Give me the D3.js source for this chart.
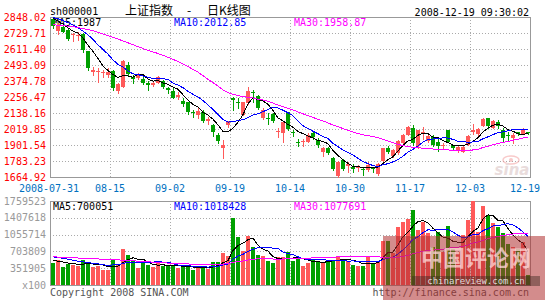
<!DOCTYPE html>
<html><head><meta charset="utf-8">
<script src="https://cdn.jsdelivr.net/npm/d3@7/dist/d3.min.js"></script>
<style>
html,body{margin:0;padding:0;background:#fff;}
svg{display:block;}
</style></head><body>
<svg id="chart" width="545" height="300"></svg>
<script>
// ---------------- data ----------------
const dates = ["07-31","08-01","08-04","08-05","08-06","08-07","08-08","08-11","08-12","08-13",
"08-14","08-15","08-18","08-19","08-20","08-21","08-22","08-25","08-26","08-27",
"08-28","08-29","09-01","09-02","09-03","09-04","09-05","09-08","09-09","09-10",
"09-11","09-12","09-16","09-17","09-18","09-19","09-22","09-23","09-24","09-25",
"09-26","10-06","10-07","10-08","10-09","10-10","10-13","10-14","10-15","10-16",
"10-17","10-20","10-21","10-22","10-23","10-24","10-27","10-28","10-29","10-30",
"10-31","11-03","11-04","11-05","11-06","11-07","11-10","11-11","11-12","11-13",
"11-14","11-17","11-18","11-19","11-20","11-21","11-24","11-25","11-26","11-27",
"11-28","12-01","12-02","12-03","12-04","12-05","12-08","12-09","12-10","12-11",
"12-12","12-15","12-16","12-17","12-18","12-19"];
const xTickLabels = ["2008-07-31","08-15","09-02","09-19","10-14","10-30","11-17","12-03","12-19"];
const priceTicks = ["2848.02","2729.71","2611.40","2493.09","2374.78","2256.47","2138.16","2019.85","1901.54","1783.23","1664.92"];
const volTicks = ["1759523","1407618","1055714","703809","351905"];
const volUnit = "x100";

const open = [2835,2745,2775,2752,2710,2705,2722,2597,2439,2444,
2429,2414,2451,2296,2333,2493,2407,2394,2390,2357,
2340,2362,2377,2320,2301,2259,2227,2217,2148,2123,
2148,2079,2049,1975,1882,2049,2246,2217,2123,2210,
2296,2264,2104,2099,2128,1995,1988,2143,2000,1924,
1921,1926,1988,1938,1847,1882,1808,1675,1791,1741,
1741,1729,1724,1717,1734,1685,1783,1882,1823,1840,
1919,1980,2025,1897,1980,1931,1963,1926,1897,2012,
1901,1865,1852,1901,2000,1980,2044,2099,2030,2074,
2012,1975,1956,1995,1985,1995];
const high = [2848.02,2800,2785,2760,2727,2735,2727,2600,2481,2468,
2456,2473,2456,2357,2528,2513,2419,2436,2407,2375,
2365,2412,2382,2333,2320,2291,2247,2222,2160,2178,
2160,2111,2054,1988,1939,2079,2259,2247,2222,2333,
2308,2271,2178,2136,2136,2025,2074,2148,2012,1946,
1946,1988,2000,1956,1889,1889,1815,1785,1798,1778,
1759,1754,1741,1778,1741,1766,1880,1894,1870,1935,
1980,2045,2049,2015,2032,1988,1975,1946,1914,2015,
1904,1901,1892,1975,2054,2025,2099,2104,2084,2087,
2025,2000,1988,2000,2030,2000];
const low = [2770,2725,2735,2680,2670,2678,2592,2456,2419,2370,
2407,2407,2308,2284,2330,2419,2357,2390,2352,2308,
2335,2357,2320,2284,2247,2242,2192,2128,2111,2099,
2069,2054,1971,1914,1803,2037,2160,2178,2123,2202,
2217,2168,2094,2054,2069,1963,1926,2015,1971,1897,
1894,1921,1946,1889,1823,1833,1720,1664.93,1717,1704,
1699,1709,1680,1709,1704,1680,1780,1840,1815,1835,
1914,1975,1901,1882,1946,1921,1897,1857,1872,1921,
1865,1852,1850,1898,1980,1975,2040,2030,2025,2025,
1931,1931,1914,1975,1980,1985];
const close = [2782,2790,2740,2685,2720,2715,2604,2473,2456,2451,
2439,2439,2325,2350,2523,2424,2394,2419,2357,2345,
2357,2407,2333,2308,2252,2271,2202,2143,2138,2155,
2079,2094,1995,1931,1902,2074,2232,2207,2217,2301,
2286,2173,2160,2089,2079,2005,2069,2020,1993,1916,
1931,1976,1956,1901,1877,1847,1724,1778,1724,1759,
1729,1736,1714,1754,1724,1759,1877,1852,1865,1931,
1975,2037,1914,2012,1995,1971,1901,1897,1904,1921,
1877,1889,1889,1971,2012,2020,2094,2037,2079,2044,
1951,1968,1975,1980,2020,1992];

const ma5 = [2838,2818,2795,2768,2743,2730,2693,2639,2594,2540,
2485,2452,2422,2401,2415,2412,2403,2422,2423,2388,
2374,2377,2360,2350,2331,2314,2273,2235,2201,2182,
2143,2122,2092,2051,2000,1999,2027,2069,2126,2206,
2249,2237,2227,2202,2157,2101,2080,2052,2033,2001,
1986,1967,1954,1936,1928,1911,1861,1825,1790,1766,
1743,1745,1732,1738,1731,1737,1766,1793,1815,1857,
1900,1932,1944,1974,1987,1986,1959,1955,1934,1919,
1900,1898,1896,1909,1928,1956,1997,2027,2048,2055,
2041,2016,2003,1984,1979,1987];
const ma10 = [2845,2835,2822,2806,2788,2768,2744,2716,2682,2642,
2608,2573,2531,2498,2478,2449,2428,2422,2412,2402,
2393,2390,2391,2387,2360,2344,2325,2298,2276,2257,
2229,2198,2164,2126,2091,2071,2075,2081,2089,2103,
2124,2132,2148,2164,2182,2175,2159,2140,2118,2079,
2044,2024,2003,1985,1965,1949,1914,1890,1863,1847,
1827,1803,1779,1764,1749,1740,1756,1763,1777,1794,
1819,1849,1869,1895,1922,1943,1946,1950,1954,1953,
1943,1929,1926,1922,1924,1928,1948,1962,1979,1992,
1999,2007,2015,2016,2017,2013];
const ma30 = [2790,2788,2785,2781,2776,2770,2763,2755,2746,2735,
2723,2711,2698,2685,2671,2657,2643,2629,2615,2602,
2590,2578,2565,2550,2535,2518,2500,2482,2460,2440,
2414,2387,2362,2337,2309,2288,2276,2267,2259,2254,
2249,2240,2234,2226,2211,2197,2186,2173,2161,2146,
2132,2118,2105,2092,2079,2065,2049,2037,2023,2010,
1998,1986,1977,1971,1965,1955,1943,1931,1919,1907,
1896,1892,1884,1881,1878,1877,1872,1868,1865,1865,
1863,1860,1858,1860,1865,1870,1883,1891,1903,1913,
1920,1928,1937,1944,1954,1959];

const volume = [461000,531000,377000,447000,426000,391000,531000,482000,370000,405000,
321000,321000,531000,412000,754000,621000,531000,356000,461000,426000,
377000,461000,391000,391000,426000,356000,405000,370000,321000,391000,
356000,342000,482000,475000,670000,600000,1403000,998000,705000,1033000,
796000,621000,600000,496000,461000,580000,580000,691000,510000,566000,
391000,461000,531000,496000,475000,496000,531000,600000,531000,496000,
426000,391000,391000,600000,461000,475000,928000,928000,670000,1218000,
1316000,1386000,1575000,1150000,1326000,1082000,800000,1100000,700000,1229000,
750000,700000,1047000,1361000,1759523,1100000,1661000,1466000,1292000,1222000,
1082000,850000,800000,750000,900000,200000];
const vma5 = [520000,500000,480000,460000,448000,434000,434000,455000,440000,436000,
422000,380000,390000,398000,468000,528000,570000,535000,545000,479000,
430000,416000,423000,409000,409000,405000,394000,390000,376000,369000,
369000,356000,378000,409000,465000,514000,726000,829000,875000,948000,
987000,831000,751000,709000,595000,552000,543000,562000,564000,585000,
548000,524000,492000,489000,471000,492000,506000,520000,527000,531000,
517000,489000,447000,461000,454000,464000,571000,678000,692000,844000,
1012000,1104000,1233000,1329000,1351000,1304000,1187000,1092000,1002000,982000,
916000,896000,885000,1017000,1124000,1194000,1386000,1470000,1456000,1348000,
1345000,1182000,1049000,941000,876000,700051];
const vma10 = [590000,575000,560000,540000,520000,500000,485000,470000,455000,442000,
428000,407000,423000,419000,452000,475000,475000,462000,471000,473000,
479000,493000,479000,477000,444000,418000,405000,406000,392000,389000,
387000,375000,384000,392000,417000,441000,541000,604000,642000,706000,
750000,778000,790000,792000,771000,769000,687000,656000,637000,590000,
550000,534000,527000,527000,528000,520000,515000,506000,508000,501000,
504000,497000,483000,494000,492000,490000,530000,563000,577000,649000,
738000,837000,956000,1011000,1097000,1158000,1145000,1162000,1165000,1166000,
1110000,1041000,988000,1010000,1053000,1055000,1141000,1177000,1237000,1236000,
1269000,1284000,1259000,1198000,1112000,1018428];
const vma30 = [590000,585000,580000,575000,570000,565000,560000,555000,550000,545000,
540000,535000,530000,525000,520000,515000,508000,500000,493000,486000,
479000,472000,465000,459000,453000,448000,444000,440000,437000,435000,
431000,425000,429000,429000,438000,445000,474000,491000,502000,523000,
539000,549000,551000,554000,544000,543000,544000,556000,557000,562000,
562000,562000,567000,570000,572000,577000,581000,589000,596000,599000,
601000,603000,600000,604000,597000,593000,577000,575000,574000,580000,
597000,623000,655000,677000,706000,723000,730000,744000,750000,772000,
784000,792000,809000,838000,881000,901000,939000,967000,993000,1017000,
1039000,1054000,1068000,1073000,1087000,1077691];

const priceLegend = ["MA5:1987","MA10:2012.85","MA30:1958.87"];
const volLegend = ["MA5:700051","MA10:1018428","MA30:1077691"];
const titleCode = "sh000001";
const titleName = ["上证指数","-","日K线图"];
const timeStamp = "2008-12-19 09:30:02";
const footLeft = "Copyright 2008 SINA.COM";
const footRight = "http://finance.sina.com.cn";
const watermark = ["中国评论网","chinareview.com.cn"];

// ---------------- drawing ----------------
const MONO = '"DejaVu Sans Mono","Liberation Mono",monospace';
const CJK = '"Noto Sans CJK SC","Noto Sans",sans-serif';
const COL = {up:'#ff5a5a', down:'#00a000', grid:'#aaaaaa', frame:'#999999',
  ma:['#000000','#0000ff','#ff00ff'], yLab:'#ff0000', vLab:'#999999', xLab:'#0070c0'};

const svg = d3.select('#chart');
svg.append('rect').attr('width',545).attr('height',300).attr('fill','#fff');

const n = dates.length;
const idx = d3.range(n);
const x = d3.scaleBand().domain(idx).range([50,530]);
const bw = x.bandwidth();
const yP = d3.scaleLinear().domain([+priceTicks[priceTicks.length-1], +priceTicks[0]]).range([177,17]);
const yV = d3.scaleLinear().domain([0, +volTicks[0]]).range([285,201]);

const tickIdx = xTickLabels.map(l => dates.indexOf(l.slice(-5)));
const gridX = tickIdx.filter((d,k) => k>0 && k<tickIdx.length-1).map(i => x(i)+bw);

function panel(yScale, vals){
  const [bot, top] = yScale.range();
  const g = svg.append('g').attr('shape-rendering','crispEdges');
  g.selectAll('line.h').data(vals).join('line').attr('class','h')
    .attr('x1',50).attr('x2',530)
    .attr('y1',d=>Math.round(yScale(d))+0.5).attr('y2',d=>Math.round(yScale(d))+0.5)
    .attr('stroke',COL.grid).attr('stroke-dasharray','1,2');
  g.selectAll('line.v').data(gridX).join('line').attr('class','v')
    .attr('x1',d=>d+0.5).attr('x2',d=>d+0.5).attr('y1',top).attr('y2',bot)
    .attr('stroke',COL.grid).attr('stroke-dasharray','1,2');
  g.append('rect').attr('x',50.5).attr('y',top+0.5).attr('width',480).attr('height',bot-top)
    .attr('fill','none').attr('stroke',COL.frame);
}
panel(yP, priceTicks.slice(1,-1).map(Number));
panel(yV, volTicks.slice(1).map(Number));

// axis labels
const txt = svg.append('g').style('font-family',MONO).style('font-size','10px');
txt.selectAll('text.py').data(priceTicks).join('text').attr('class','py')
  .attr('x',46).attr('y',d=>yP(+d)+3.5).attr('text-anchor','end').attr('fill',COL.yLab).text(d=>d);
txt.selectAll('text.vy').data(volTicks.concat([volUnit])).join('text').attr('class','vy')
  .attr('x',46).attr('y',d=>(d===volUnit? yV(0): yV(+d))+3.5).attr('text-anchor','end').attr('fill',COL.vLab).text(d=>d);
txt.selectAll('text.xl').data(xTickLabels).join('text').attr('class','xl')
  .attr('x',(d,k)=>{ const w=d.length*6; let c = k===0 ? x(tickIdx[k])-1 : x(tickIdx[k])+bw; return Math.min(c, 540-w/2); })
  .attr('y',192).attr('text-anchor','middle').attr('fill',COL.xLab).text(d=>d);

// titles
txt.append('text').attr('x',50).attr('y',15).attr('fill','#000').text(titleCode);
const tg = svg.append('g').style('font-family',CJK).style('font-size','12px').attr('fill','#000');
tg.append('text').attr('x',125).attr('y',15).text(titleName[0]);
tg.append('text').attr('x',187).attr('y',15).text(titleName[1]);
tg.append('text').attr('x',207).attr('y',15).text(titleName[2]);
txt.append('text').attr('x',529).attr('y',16).attr('text-anchor','end').attr('fill','#000').text(timeStamp);
txt.append('text').attr('x',50).attr('y',296).attr('fill','#555').text(footLeft);
txt.append('text').attr('x',529).attr('y',296).attr('text-anchor','end').attr('fill','#555').text(footRight);

// legends
const legX = [53,174,294];
txt.selectAll('text.pl').data(priceLegend).join('text').attr('class','pl')
  .attr('x',(d,k)=>legX[k]).attr('y',26).attr('fill',(d,k)=>COL.ma[k]).text(d=>d);
txt.selectAll('text.vl').data(volLegend).join('text').attr('class','vl')
  .attr('x',(d,k)=>legX[k]).attr('y',209.5).attr('fill',(d,k)=>COL.ma[k]).text(d=>d);

// candles
const isUp = i => close[i] > open[i];
const cg = svg.append('g').attr('shape-rendering','crispEdges');
cg.selectAll('line.wick').data(idx).join('line').attr('class','wick')
  .attr('x1',i=>x(i)+3).attr('x2',i=>x(i)+3)
  .attr('y1',i=>Math.round(yP(high[i]))).attr('y2',i=>Math.round(yP(low[i]))+1)
  .attr('stroke',i=>isUp(i)?COL.up:COL.down);
cg.selectAll('rect.body').data(idx).join('rect').attr('class','body')
  .attr('x',i=>x(i)+1).attr('width',4)
  .attr('y',i=>Math.round(yP(Math.max(open[i],close[i]))))
  .attr('height',i=>Math.max(1,Math.round(Math.abs(yP(open[i])-yP(close[i])))))
  .attr('fill',i=>isUp(i)?COL.up:COL.down);

// volume bars
cg.selectAll('rect.vol').data(idx).join('rect').attr('class','vol')
  .attr('x',i=>x(i)+1).attr('width',4)
  .attr('y',i=>Math.round(yV(volume[i])))
  .attr('height',i=>yV(0)-Math.round(yV(volume[i])))
  .attr('fill',i=>isUp(i)?COL.up:COL.down);

// MA lines
const lg = svg.append('g').attr('fill','none').attr('stroke-width',1).attr('shape-rendering','crispEdges');
[ma5,ma10,ma30].forEach((arr,k)=>{
  lg.append('path').attr('d', d3.line().x(i=>x(i)+3).y(i=>yP(arr[i]))(idx)).attr('stroke',COL.ma[k]);
});
[vma5,vma10,vma30].forEach((arr,k)=>{
  lg.append('path').attr('d', d3.line().x(i=>x(i)+3).y(i=>yV(arr[i]))(idx)).attr('stroke',COL.ma[k]);
});

// sina logo (faint) in price panel
const lo = svg.append('g').attr('opacity',0.55);
lo.append('ellipse').attr('cx',511).attr('cy',160).attr('rx',8).attr('ry',4).attr('fill','none').attr('stroke','#f4a0a0').attr('stroke-width',1.5);
lo.append('circle').attr('cx',511).attr('cy',160).attr('r',2).attr('fill','#f4a0a0');
lo.append('text').attr('x',512).attr('y',175).attr('text-anchor','middle')
  .style('font-family','"DejaVu Sans",sans-serif').style('font-size','15px').style('font-weight','bold').style('font-style','italic')
  .attr('fill','#d8c0c0').text('sina');

// watermark overlay
const wm = svg.append('g');
wm.append('rect').attr('x',383).attr('y',236).attr('width',162).attr('height',64).attr('fill','rgba(175,45,45,0.55)');
wm.append('text').attr('x',476).attr('y',266).attr('text-anchor','middle')
  .style('font-family',CJK).style('font-size','22px').style('font-weight','bold')
  .attr('fill','rgba(255,215,215,0.75)').text(watermark[0]);
wm.append('rect').attr('x',412).attr('y',276).attr('width',128).attr('height',10).attr('fill','rgba(60,40,30,0.45)');
wm.append('text').attr('x',476).attr('y',284).attr('text-anchor','middle')
  .style('font-family',MONO).style('font-size','9px').attr('fill','rgba(235,235,235,0.9)').text(watermark[1]);
</script>
</body></html>
